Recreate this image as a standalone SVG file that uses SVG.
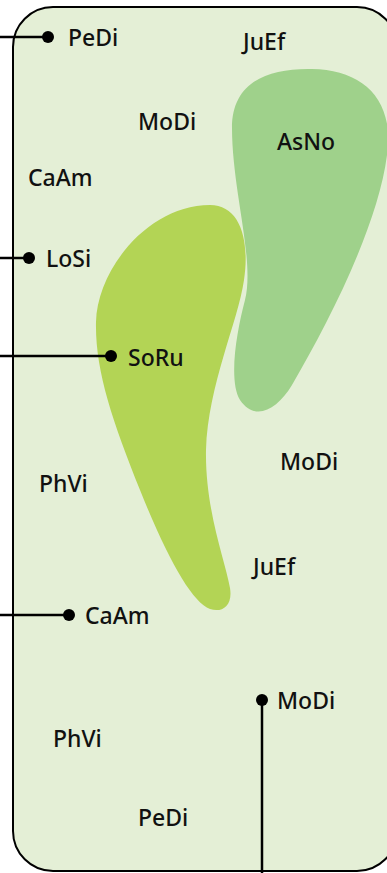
<svg xmlns="http://www.w3.org/2000/svg" width="387" height="873" viewBox="0 0 387 873">
<style>
text{font-family:"Noto Sans","Open Sans","Liberation Sans",sans-serif;font-size:23px;font-weight:500;fill:#111}
.ln{stroke:#000;stroke-width:2.5;fill:none}
.dot{fill:#000}
</style>
<g id="frame">
<rect x="13" y="7" width="384" height="864" rx="40" ry="40" fill="#e4efd6" stroke="#000" stroke-width="2"/>
</g>
<g id="asno-region">
<path d="M232,128 C232,82 268,68 312,69 C362,70 395,98 387,155 C378,225 330,320 292,385 C277,410 255,422 240,400 C228,380 237,330 245,300 C255,260 232,190 232,128 Z" fill="#9fd18b"/>
</g>
<g id="soru-region">
<path d="M210,205 C240,205 250,240 244,280 C238,322 208,385 206,450 C205,510 225,560 230,588 C233,606 222,613 210,609 C192,602 168,560 140,490 C112,420 95,370 96,322 C97,270 148,205 210,205 Z" fill="#b3d455"/>
</g>
<g id="connectors">
<path class="ln" d="M0,37 H48"/>
<path class="ln" d="M0,258 H29"/>
<path class="ln" d="M0,356 H111"/>
<path class="ln" d="M0,615 H69"/>
<path class="ln" d="M262,700 V873"/>
<circle class="dot" cx="48" cy="37" r="6"/>
<circle class="dot" cx="29" cy="258" r="6"/>
<circle class="dot" cx="111" cy="356" r="6"/>
<circle class="dot" cx="69" cy="615" r="6"/>
<circle class="dot" cx="262" cy="700" r="6"/>
</g>
<g id="n-pedi1"><text x="68" y="46">PeDi</text></g>
<g id="n-juef1"><text x="243" y="50">JuEf</text></g>
<g id="n-modi1"><text x="138" y="130">MoDi</text></g>
<g id="n-asno"><text x="277" y="150">AsNo</text></g>
<g id="n-caam1"><text x="28" y="186">CaAm</text></g>
<g id="n-losi"><text x="46" y="267">LoSi</text></g>
<g id="n-soru"><text x="128" y="366">SoRu</text></g>
<g id="n-modi2"><text x="280" y="470">MoDi</text></g>
<g id="n-phvi1"><text x="39" y="492">PhVi</text></g>
<g id="n-juef2"><text x="253" y="575">JuEf</text></g>
<g id="n-caam2"><text x="85" y="624">CaAm</text></g>
<g id="n-modi3"><text x="277" y="709">MoDi</text></g>
<g id="n-phvi2"><text x="53" y="747">PhVi</text></g>
<g id="n-pedi2"><text x="138" y="826">PeDi</text></g>
</svg>
